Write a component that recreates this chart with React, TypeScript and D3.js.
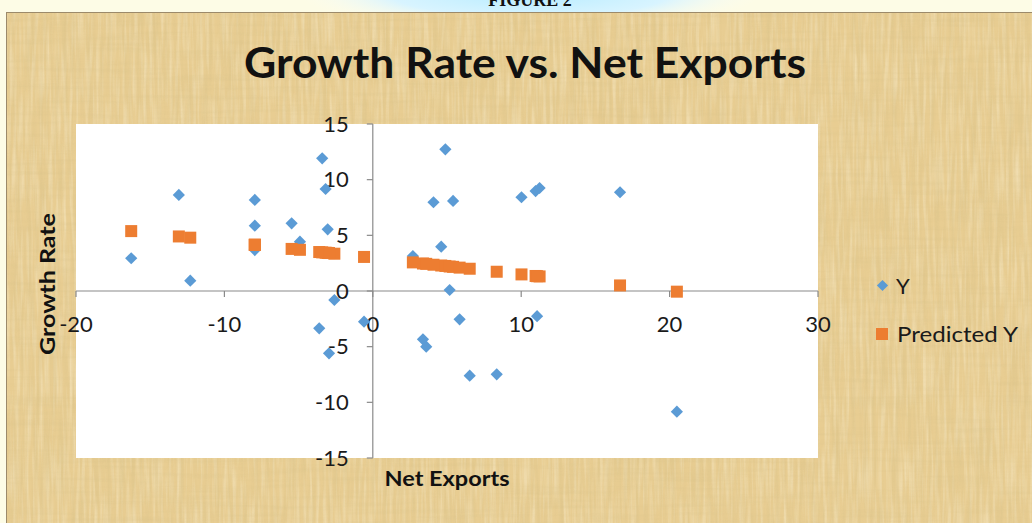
import React from "react";
import * as d3 from "d3";

// ---- data ----
const netExports: number[] = [
  -16.28, -13.07, -12.3, -7.95, -7.95, -7.95, -5.47, -4.91, -3.41, -3.18, -3.04,
  -2.59, -3.61, -2.95, -0.59, 2.7, 4.61, 4.09, 5.41, 4.89, 5.18, 10.02, 10.97,
  11.24, 16.66, 3.38, 3.6, 5.85, 6.53, 8.35, 11.07, 20.49,
];
const growthRate: number[] = [
  2.94, 8.63, 0.93, 8.18, 5.87, 3.68, 6.08, 4.43, 11.92, 9.16, 5.54,
  -0.81, -3.35, -5.6, -2.76, 3.14, 3.98, 7.97, 8.09, 12.73, 0.09, 8.42, 8.98,
  9.25, 8.87, -4.34, -5.0, -2.54, -7.61, -7.48, -2.26, -10.84,
];
const predictedY: number[] = [
  5.38, 4.9, 4.79, 4.15, 4.15, 4.15, 3.78, 3.7, 3.47, 3.44, 3.42,
  3.35, 3.5, 3.41, 3.06, 2.57, 2.29, 2.36, 2.17, 2.25, 2.2, 1.49, 1.35,
  1.31, 0.5, 2.47, 2.44, 2.1, 2.0, 1.73, 1.33, -0.06,
];
const xTicks: number[] = [-20, -10, 0, 10, 20, 30];
const yTicks: number[] = [-15, -10, -5, 0, 5, 10, 15];
const seriesNames: string[] = ["Y", "Predicted Y"];

const BLUE = "#5B9BD5";
const ORANGE = "#ED7D31";
const FONT = "Lato, 'Open Sans', sans-serif";

export default function App() {
  const W = 1032;
  const H = 523;
  const plot = { left: 76, right: 818, top: 124, bottom: 458 };
  const x = d3.scaleLinear().domain([-20, 30]).range([plot.left, plot.right]);
  const y = d3.scaleLinear().domain([-15, 15]).range([plot.bottom, plot.top]);
  const x0 = x(0);
  const y0 = y(0);

  const diamond = d3.symbol().type(d3.symbolDiamond2).size(95)();
  const legendDiamond = d3.symbol().type(d3.symbolDiamond2).size(80)();
  const sq = 12;

  const pts = netExports.map((v, i) => ({ x: v, y: growthRate[i], p: predictedY[i] }));

  return (
    <svg
      width={W}
      height={H}
      style={{ position: "absolute", left: 0, top: 0, display: "block" }}
      xmlns="http://www.w3.org/2000/svg"
    >
      <defs>
        <radialGradient id="glow" cx="0.5" cy="0.5" r="0.5">
          <stop offset="0" stopColor="#b8ecff" />
          <stop offset="0.6" stopColor="#d8f4ff" />
          <stop offset="1" stopColor="#fdfdf2" stopOpacity="0" />
        </radialGradient>
        <filter id="vstreak" x="0" y="0" width="100%" height="100%">
          <feTurbulence type="fractalNoise" baseFrequency="0.25 0.012" numOctaves="3" seed="7" result="n" />
          <feColorMatrix
            in="n"
            type="matrix"
            values="0 0 0 0 0.66  0 0 0 0 0.52  0 0 0 0 0.24  1.6 0 0 0 -0.62"
          />
        </filter>
        <filter id="hstreak" x="0" y="0" width="100%" height="100%">
          <feTurbulence type="fractalNoise" baseFrequency="0.012 0.22" numOctaves="3" seed="11" result="n" />
          <feColorMatrix
            in="n"
            type="matrix"
            values="0 0 0 0 0.66  0 0 0 0 0.52  0 0 0 0 0.24  1.4 0 0 0 -0.58"
          />
        </filter>
        <filter id="light" x="0" y="0" width="100%" height="100%">
          <feTurbulence type="fractalNoise" baseFrequency="0.3 0.02" numOctaves="2" seed="3" result="n" />
          <feColorMatrix
            in="n"
            type="matrix"
            values="0 0 0 0 1  0 0 0 0 0.95  0 0 0 0 0.78  1.5 0 0 0 -0.6"
          />
        </filter>
      </defs>

      {/* page background and top strip */}
      <rect x={0} y={0} width={W} height={H} fill="#fdfce6" />
      <rect x={300} y={-40} width={460} height={70} fill="url(#glow)" />
      <text
        x={530}
        y={6}
        textAnchor="middle"
        fontFamily="'Liberation Serif', 'DejaVu Serif', serif"
        fontWeight="bold"
        fontSize={18}
        fill="#111"
      >
        FIGURE 2
      </text>

      {/* parchment */}
      <g>
        <rect x={6} y={12} width={W - 6} height={H - 12} fill="#e8cd92" />
        <rect x={6} y={12} width={W - 6} height={H - 12} filter="url(#light)" opacity={0.5} />
        <rect x={6} y={12} width={W - 6} height={H - 12} filter="url(#vstreak)" opacity={0.45} />
        <rect x={6} y={12} width={W - 6} height={H - 12} filter="url(#hstreak)" opacity={0.3} />
        <rect x={6.5} y={12.5} width={W} height={H} fill="none" stroke="#9c8a6a" strokeWidth={1} />
      </g>

      {/* title */}
      <text
        x={525}
        y={78}
        textAnchor="middle"
        fontFamily={FONT}
        fontWeight="bold"
        fontSize={42}
        fill="#111"
        textLength={562}
        lengthAdjust="spacingAndGlyphs"
      >
        Growth Rate vs. Net Exports
      </text>

      {/* plot area */}
      <rect
        x={plot.left}
        y={plot.top}
        width={plot.right - plot.left}
        height={plot.bottom - plot.top}
        fill="#ffffff"
      />

      {/* axes */}
      <g stroke="#8a8a8a" strokeWidth={1.2}>
        <line x1={plot.left} x2={plot.right} y1={y0} y2={y0} />
        <line x1={x0} x2={x0} y1={plot.top} y2={plot.bottom} />
        {xTicks.map((t) => (
          <line key={"xt" + t} x1={x(t)} x2={x(t)} y1={y0} y2={y0 + 6} />
        ))}
        {yTicks.map((t) => (
          <line key={"yt" + t} x1={x0 - 6} x2={x0} y1={y(t)} y2={y(t)} />
        ))}
      </g>

      {/* tick labels */}
      <g fontFamily={FONT} fontSize={22} fill="#1a1a1a">
        {yTicks.map((t) => (
          <text key={"yl" + t} x={x0 - 24} y={y(t)} dy="0.35em" textAnchor="end">
            {t}
          </text>
        ))}
        {xTicks.map((t) => (
          <text key={"xl" + t} x={x(t)} y={y0 + 33} dy="0.35em" textAnchor="middle">
            {t}
          </text>
        ))}
      </g>

      {/* axis titles */}
      <text
        x={447}
        y={486}
        textAnchor="middle"
        fontFamily={FONT}
        fontWeight="bold"
        fontSize={21}
        fill="#111"
        textLength={125}
        lengthAdjust="spacingAndGlyphs"
      >
        Net Exports
      </text>
      <text
        transform={`translate(55,${284}) rotate(-90)`}
        textAnchor="middle"
        fontFamily={FONT}
        fontWeight="bold"
        fontSize={21}
        fill="#111"
        textLength={142}
        lengthAdjust="spacingAndGlyphs"
      >
        Growth Rate
      </text>

      {/* series Y */}
      <g fill={BLUE}>
        {pts.map((d, i) => (
          <path key={"y" + i} d={diamond as string} transform={`translate(${x(d.x)},${y(d.y)})`} />
        ))}
      </g>
      {/* series Predicted Y */}
      <g fill={ORANGE}>
        {pts.map((d, i) => (
          <rect key={"p" + i} x={x(d.x) - sq / 2} y={y(d.p) - sq / 2} width={sq} height={sq} />
        ))}
      </g>

      {/* legend */}
      <g fontFamily={FONT} fontSize={22} fill="#1a1a1a">
        <path d={legendDiamond as string} fill={BLUE} transform="translate(882.5,285.5)" />
        <text x={896} y={286} dy="0.35em">
          {seriesNames[0]}
        </text>
        <rect x={882 - sq / 2} y={334 - sq / 2} width={sq} height={sq} fill={ORANGE} />
        <text x={897} y={334} dy="0.35em" textLength={121} lengthAdjust="spacingAndGlyphs">
          {seriesNames[1]}
        </text>
      </g>
    </svg>
  );
}
